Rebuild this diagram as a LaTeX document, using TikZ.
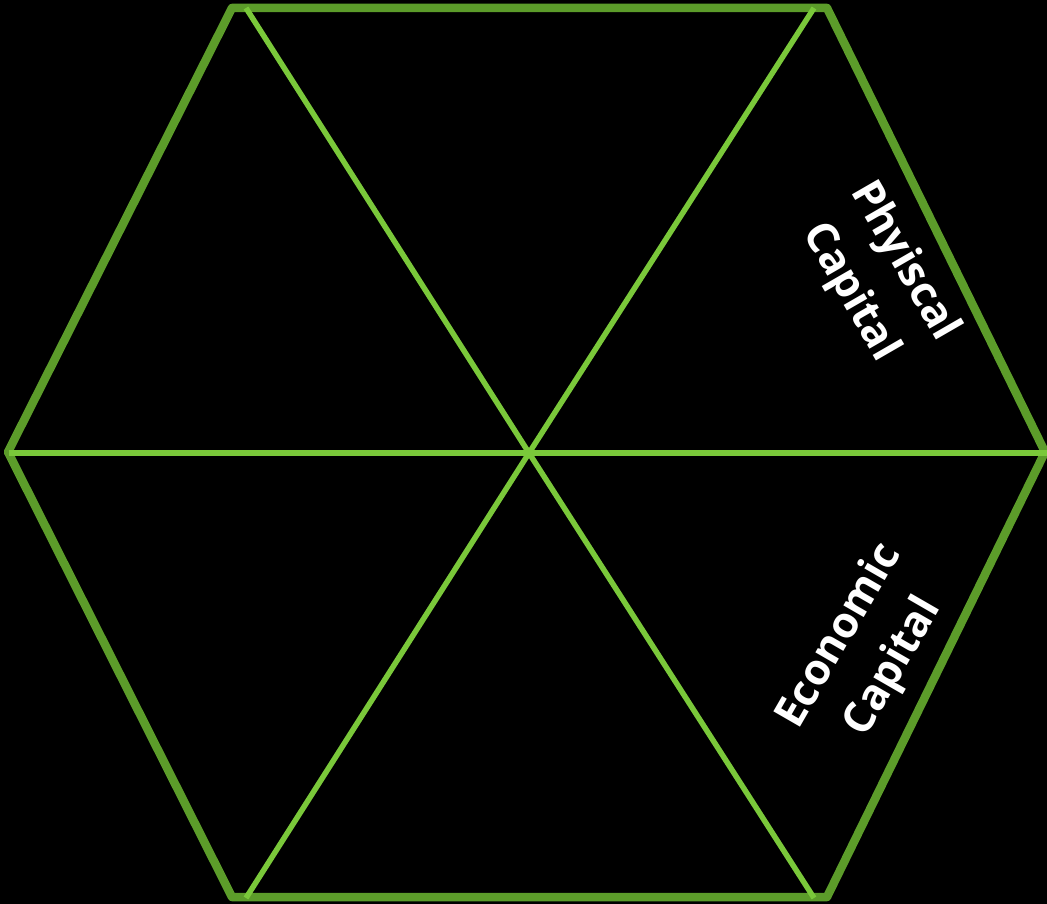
\documentclass[tikz,border=0pt]{standalone}
\usepackage{fontspec}
\setmainfont{Open Sans}
\definecolor{outergreen}{RGB}{92,156,42}
\definecolor{innergreen}{RGB}{122,200,58}
\begin{document}
\begin{tikzpicture}[x=1pt,y=-1pt,
  outer/.style={draw=outergreen,line width=8.5pt,line join=round},
  spoke/.style={draw=innergreen,line width=5.5pt},
  lbl/.style={text=white,font=\bfseries\fontsize{43}{62}\selectfont,align=center,inner sep=0pt}]
\fill[black] (0,0) rectangle (1047,904);
\useasboundingbox (0,0) rectangle (1047,904);
% outer vertices
\coordinate (A) at (232,8);
\coordinate (B) at (827,8);
\coordinate (C) at (1045,452);
\coordinate (D) at (827,897);
\coordinate (E) at (232,897);
\coordinate (F) at (8,452);
\coordinate (O) at (529,453);
% spoke ends
\coordinate (a) at (246,8);
\coordinate (b) at (814,8);
\coordinate (c) at (1047,453);
\coordinate (d) at (814,898);
\coordinate (e) at (246,898);
\coordinate (f) at (9,453);
\draw[outer] (A) -- (B) -- (C) -- (D) -- (E) -- (F) -- cycle;
\draw[spoke] (a) -- (O) -- (d);
\draw[spoke] (b) -- (O) -- (e);
\draw[spoke] (f) -- (O) -- (c);
\node[lbl,rotate=-60] (phys) at (877,277) {Phyiscal\\Capital};
\node[lbl,rotate=60] (econ) at (867,652) {Economic\\Capital};
\end{tikzpicture}
\end{document}
